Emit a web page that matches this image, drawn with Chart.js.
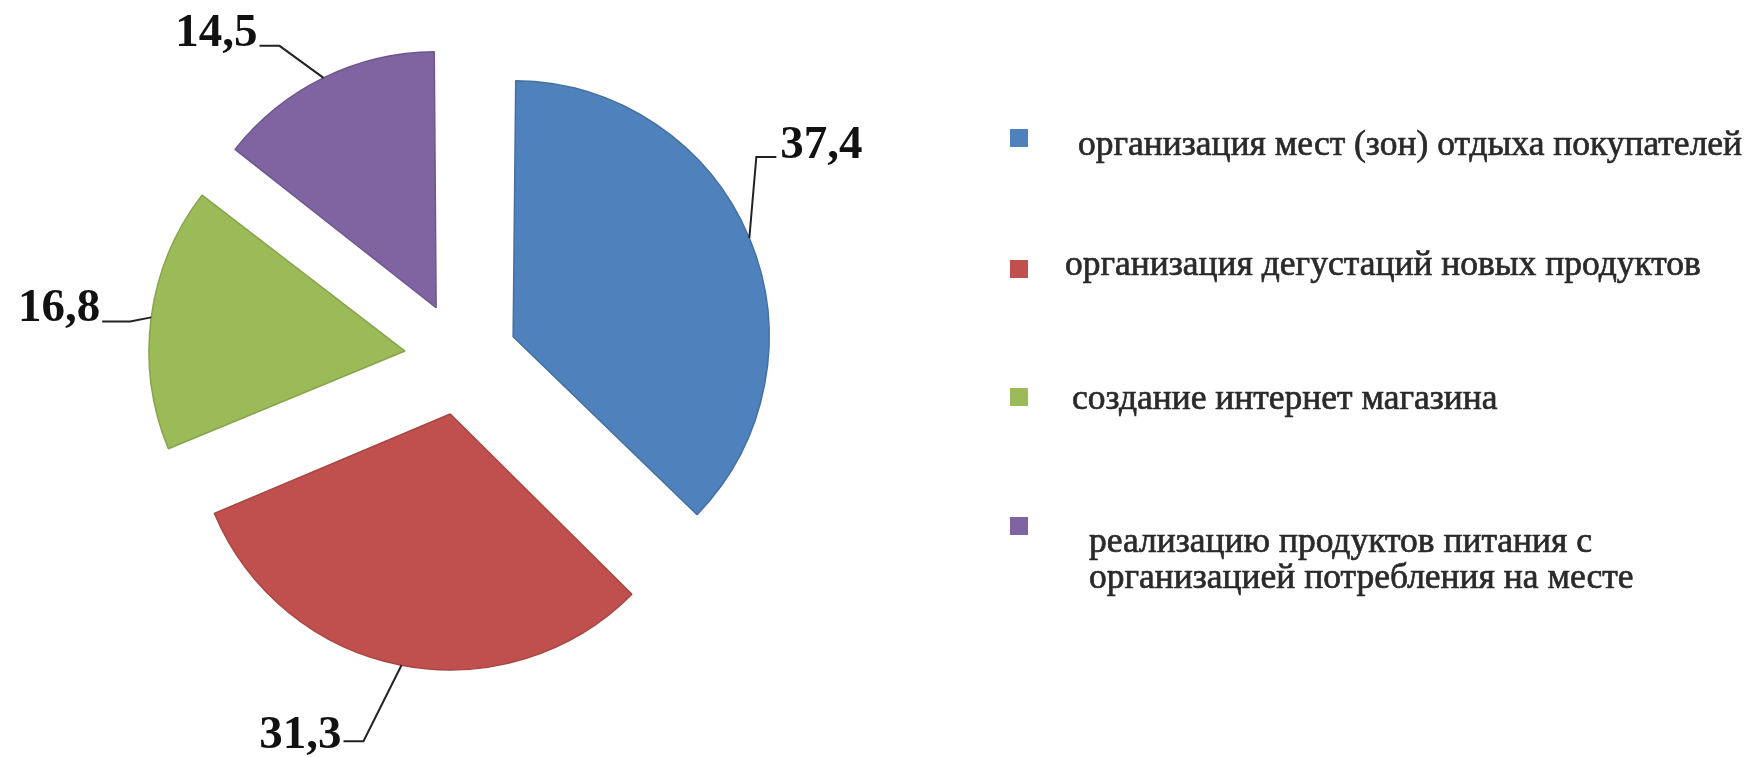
<!DOCTYPE html>
<html lang="ru">
<head>
  <meta charset="UTF-8">
  <title>Мероприятия</title>
  <script src="https://cdn.jsdelivr.net/npm/chart.js"></script>
  <style>
    html, body {
      margin: 0;
      padding: 0;
      background: #ffffff;
    }
    #wrap {
      position: relative;
      width: 1756px;
      height: 757px;
    }
  </style>
</head>
<body>
  <div id="wrap">
    <canvas id="pieChart" width="1756" height="757"></canvas>
  </div>

  <script>
    // data
    const labels = [
      'организация мест (зон) отдыха покупателей',
      'организация дегустаций новых продуктов',
      'создание интернет магазина',
      ['реализацию продуктов питания с', 'организацией потребления на месте']
    ];
    const values = [37.4, 31.3, 16.8, 14.5];
    const colors = ['#4f81bd', '#c0504d', '#9bbb59', '#8064a2'];
    const edgeColors = ['#44709f', '#a84542', '#87a44c', '#6e568e'];

    const PIE_R = 256;       // visible radius of every slice
    const EXPLODE = 226;     // chart.js offset (slice moves by offset / 4)

    // keep all slices at the same radius (chart.js grows exploded slices a bit)
    const evenRadius = {
      id: 'evenRadius',
      afterUpdate(chart) {
        const meta = chart.getDatasetMeta(0);
        meta.data.forEach(arc => {
          const fix = 1 - Math.sin(Math.min(Math.PI, arc.circumference));
          arc.outerRadius = PIE_R - (EXPLODE / 4) * fix;
        });
      }
    };

    // value labels with leader lines
    const leaders = [
      { dx: 7, dy: -81, len: 20, base: 1 },
      { dx: -38, dy: 76, len: -20, base: 7 },
      { dx: -21, dy: 4, len: -28, base: 0 },
      { dx: -44, dy: -32, len: -20, base: 0 }
    ];
    const valueLabels = {
      id: 'valueLabels',
      afterDatasetsDraw(chart) {
        const ctx = chart.ctx;
        const meta = chart.getDatasetMeta(0);
        ctx.save();
        ctx.strokeStyle = '#222';
        ctx.lineWidth = 2;
        ctx.fillStyle = '#111';
        ctx.font = 'bold 47px "Liberation Serif", "Times New Roman", serif';
        ctx.textBaseline = 'alphabetic';
        meta.data.forEach((arc, i) => {
          const mid = (arc.startAngle + arc.endAngle) / 2;
          const t = EXPLODE / 4;
          const ax = arc.x + Math.cos(mid) * (t + PIE_R);
          const ay = arc.y + Math.sin(mid) * (t + PIE_R);
          const L = leaders[i];
          const ex = ax + L.dx, ey = ay + L.dy;
          const hx = ex + L.len;
          ctx.beginPath();
          ctx.moveTo(ax, ay);
          ctx.lineTo(ex, ey);
          ctx.lineTo(hx, ey);
          ctx.stroke();
          const txt = values[i].toFixed(1).replace('.', ',');
          if (L.len > 0) {
            ctx.textAlign = 'left';
            ctx.fillText(txt, hx + 4, ey + L.base);
          } else {
            ctx.textAlign = 'right';
            ctx.fillText(txt, hx - 2, ey + L.base);
          }
        });
        ctx.restore();
      }
    };

    // legend on the right
    const legendRows = [
      { box: 129, x: 1078, lines: [155] },
      { box: 260, x: 1065, lines: [275] },
      { box: 388, x: 1072, lines: [409] },
      { box: 517, x: 1089, lines: [552, 588] }
    ];
    const sideLegend = {
      id: 'sideLegend',
      afterDraw(chart) {
        const ctx = chart.ctx;
        ctx.save();
        ctx.font = '35.5px "Liberation Serif", "Times New Roman", serif';
        ctx.textAlign = 'left';
        ctx.textBaseline = 'alphabetic';
        ctx.lineWidth = 0.7;
        ctx.strokeStyle = '#2a2a2a';
        labels.forEach((lab, i) => {
          const row = legendRows[i];
          ctx.fillStyle = colors[i];
          ctx.fillRect(1010, row.box, 18, 18);
          ctx.fillStyle = '#2a2a2a';
          const lines = Array.isArray(lab) ? lab : [lab];
          lines.forEach((ln, j) => {
            ctx.fillText(ln, row.x, row.lines[j]);
            ctx.strokeText(ln, row.x, row.lines[j]);
          });
        });
        ctx.restore();
      }
    };

    new Chart(document.getElementById('pieChart'), {
      type: 'pie',
      data: {
        labels: labels,
        datasets: [{
          data: values,
          backgroundColor: colors,
          borderColor: edgeColors,
          borderWidth: 1.5,
          offset: EXPLODE,
          hoverOffset: 0
        }]
      },
      options: {
        responsive: false,
        animation: false,
        radius: PIE_R,
        layout: {
          padding: { left: 0, top: 0, right: 834, bottom: 40 }
        },
        plugins: {
          legend: { display: false },
          tooltip: { enabled: false }
        },
        events: []
      },
      plugins: [evenRadius, valueLabels, sideLegend]
    });
  </script>
</body>
</html>
